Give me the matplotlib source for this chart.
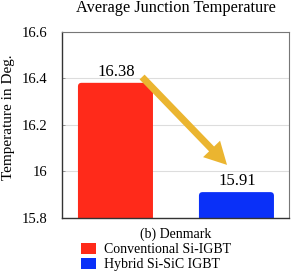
import matplotlib
matplotlib.use("Agg")
import matplotlib.pyplot as plt
from matplotlib.patches import FancyBboxPatch, Patch

categories = ["Conventional Si-IGBT", "Hybrid Si-SiC IGBT"]
values = [16.38, 15.91]
colors = ["#FF2A1A", "#0A30F8"]
yticks = [15.8, 16.0, 16.2, 16.4, 16.6]

plt.rcParams['font.family'] = ['Liberation Serif', 'DejaVu Serif']

fig = plt.figure(figsize=(2.91, 2.73), dpi=100)
ax = fig.add_axes([0.213, 0.2026, 0.78, 0.6814])

x = list(range(len(values)))
base = 15.7
bars = ax.bar(x, [v - base for v in values], bottom=base, width=0.62, color=colors, zorder=2)

# rounded tops
for b in bars:
    fb = FancyBboxPatch((b.get_x(), b.get_y()), b.get_width(), b.get_height(),
                        boxstyle="round,pad=0,rounding_size=0.03", mutation_aspect=0.52,
                        facecolor=b.get_facecolor(), edgecolor="none", zorder=2)
    ax.add_patch(fb)
    b.remove()

for xi, v in zip(x, values):
    ax.text(xi + 0.01, v + 0.012, "%.2f" % v, ha="center", va="bottom", fontsize=12, zorder=4)

# arrow from first bar to second
ax.annotate("", xy=(x[1] - 0.078, values[1] + 0.117), xytext=(x[0] + 0.22, values[0] + 0.025),
            arrowprops=dict(facecolor="#EBB530", edgecolor="none", width=5,
                            headwidth=17, headlength=16, shrink=0), zorder=3)

ax.set_xlim(-0.442, 1.434)
ax.set_ylim(15.8, 16.6)
ax.set_yticks(yticks)
ax.set_yticklabels(["%g" % t for t in yticks], fontsize=10.5)
ax.set_xticks([])
ax.tick_params(axis="y", direction="in", length=2, width=0.6, color="#888888", pad=10.5)
ax.grid(axis="y", color="#DDDDDD", linewidth=0.8, zorder=0)
ax.set_axisbelow(True)

for s in ["top", "right"]:
    ax.spines[s].set_color("#777777")
    ax.spines[s].set_linewidth(0.8)
for s in ["left", "bottom"]:
    ax.spines[s].set_color("#333333")
    ax.spines[s].set_linewidth(1.0)

ax.set_title("Average Junction Temperature", fontsize=11.8, pad=14)
ax.set_ylabel("Temperature in Deg.", fontsize=11)
ax.yaxis.set_label_coords(-0.205, 0.54)
ax.set_xlabel("(b) Denmark", fontsize=10, labelpad=7)

handles = [Patch(facecolor=c, edgecolor="none") for c in colors]
fig.legend(handles, categories, loc="upper left", bbox_to_anchor=(0.277, 0.11),
           frameon=False, fontsize=10, handlelength=1.1, handleheight=0.8,
           handletextpad=0.6, labelspacing=0.15, borderpad=0, borderaxespad=0)

fig.savefig("out.png", dpi=100)
